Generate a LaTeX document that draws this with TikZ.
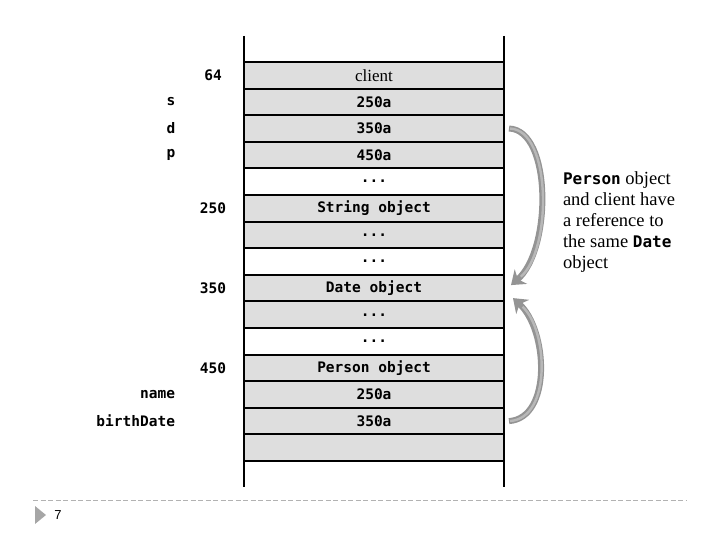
\documentclass[tikz,border=0pt]{standalone}
\usepackage{fontspec}
\setmainfont{Liberation Serif}
\setsansfont{Liberation Sans}
\setmonofont{DejaVu Sans Mono}
\usetikzlibrary{arrows.meta,positioning}

\begin{document}
\begin{tikzpicture}[x=1pt,y=-1pt,line width=2pt,
  cell/.style={draw,fill=black!13,minimum width=260pt,minimum height=26.6pt,inner sep=0pt,
    font=\fontsize{14.5}{17}\selectfont\ttfamily\bfseries},
  blank/.style={cell,fill=white},
  addr/.style={inner sep=0pt,font=\fontsize{14.5}{17}\selectfont\ttfamily\bfseries},
  refarrow/.style={draw=black!42,line width=6pt,-{Stealth[length=13pt,width=19pt,inset=4pt]},
    postaction={draw=black!28,line width=2.4pt,-,shorten >=13pt,shorten <=1pt}},
  note/.style={inner sep=0pt,align=left,font=\fontsize{18.5}{21}\selectfont}]
\useasboundingbox (0,0) rectangle (720,540);
% memory column
\draw (244,36) -- (244,487);
\draw (504,36) -- (504,487);
\node[cell,font=\fontsize{17}{20}\selectfont] (client) at (374,75.3) {client};
\node[cell] (sref) at (374,101.9) {250a};
\node[cell] (dref) at (374,128.5) {350a};
\node[cell] (pref) at (374,155.1) {450a};
\node[blank] (gapa) at (374,181.7) {...};
\node[cell] (strobj) at (374,208.3) {String object};
\node[cell] (gapb) at (374,234.9) {...};
\node[blank] (gapc) at (374,261.5) {...};
\node[cell] (dateobj) at (374,288.1) {Date object};
\node[cell] (gapd) at (374,314.7) {...};
\node[blank] (gape) at (374,341.3) {...};
\node[cell] (personobj) at (374,367.9) {Person object};
\node[cell] (pname) at (374,394.5) {250a};
\node[cell] (pdate) at (374,421.1) {350a};
\node[cell] (pfree) at (374,447.7) {};
% addresses and variable names
\node[addr] (a64) at (213,75.3) {64};
\node[addr] (vs) at (171,101.9) {s};
\node[addr] (vd) at (171,128.5) {d};
\node[addr] (vp) at (171,155.1) {p};
\node[addr] (a250) at (213,208.3) {250};
\node[addr] (a350) at (213,288.1) {350};
\node[addr] (a450) at (213,367.9) {450};
\node[addr,anchor=east] (vname) at (176,394.5) {name};
\node[addr,anchor=east] (vbirth) at (176,421.1) {birthDate};
% references to the Date object
\draw[refarrow] ([xshift=4pt]dref.east) .. controls (552,130) and (552,250) .. ([xshift=6pt,yshift=3pt]dateobj.east);
\draw[refarrow] ([xshift=4pt]pdate.east) .. controls (552,418) and (548,330) .. ([xshift=8pt,yshift=-10pt]dateobj.east);
\node[note,anchor=north west] (remark) at (562,171) {\textbf{\fontsize{16}{21}\selectfont\texttt{Person}} object\\and client have\\a reference to\\the same \textbf{\fontsize{16}{21}\selectfont\texttt{Date}}\\object};
% slide footer
\draw[black!30,line width=1pt,dash pattern=on 5pt off 2.5pt] (33,500) -- (686,500);
\fill[black!35] (35,506) -- (46,515) -- (35,524) -- cycle;
\node[inner sep=0pt,font=\fontsize{13}{15}\selectfont\sffamily] (pagenum) at (58,515) {7};
\end{tikzpicture}
\end{document}
